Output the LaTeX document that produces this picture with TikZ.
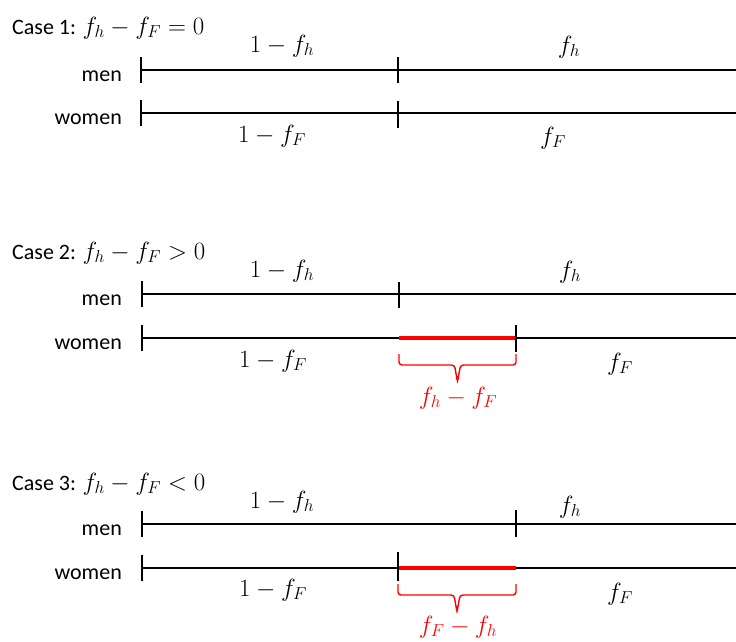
\documentclass[tikz,border=0pt]{standalone}
\usepackage{fontspec}
\setmainfont{Carlito}
\newcommand{\mathsz}[1]{{\fontsize{25}{28}\selectfont$#1$}}
\tikzset{
  bar/.style={line width=2.6pt},
  tickmark/.style={line width=2.6pt},
  redbar/.style={line width=4pt, red},
  bracestyle/.style={red, line width=1.4pt, rounded corners=3pt},
  lbl/.style={inner sep=0pt, font=\fontsize{22}{26}\selectfont},
  rowlbl/.style={lbl, anchor=east},
  caselbl/.style={lbl, anchor=west},
}
\begin{document}
\begin{tikzpicture}[x=1pt,y=-1pt]
\useasboundingbox (0,0) rectangle (736,641);
% ---------- Case 1
\node[caselbl] (c1) at (12,28) {Case 1: \mathsz{f_h - f_F = 0}};
\node[rowlbl] (m1) at (122,76) {men};
\node[rowlbl] (w1) at (122,119) {women};
\coordinate (m1a) at (141,70); \coordinate (m1b) at (736,70);
\coordinate (w1a) at (141,113); \coordinate (w1b) at (736,113);
\coordinate (m1t) at (398,70); \coordinate (w1t) at (398,113);
\draw[bar] (m1a) -- (m1b);
\draw[bar] (w1a) -- (w1b);
\draw[tickmark] ([yshift=-13pt]m1a) -- ([yshift=13pt]m1a);
\draw[tickmark] ([yshift=-13pt]w1a) -- ([yshift=13pt]w1a);
\draw[tickmark] ([yshift=-13pt]m1t) -- ([yshift=13pt]m1t);
\draw[tickmark] ([yshift=-15pt]w1t) -- ([yshift=12pt]w1t);
\node[lbl] (a1) at (282,46) {\mathsz{1 - f_h}};
\node[lbl] (b1) at (569,47) {\mathsz{f_h}};
\node[lbl] (d1) at (272,136) {\mathsz{1 - f_F}};
\node[lbl] (e1) at (553,138) {\mathsz{f_F}};
% ---------- Case 2
\node[caselbl] (c2) at (12,253) {Case 2: \mathsz{f_h - f_F > 0}};
\node[rowlbl] (m2) at (122,300) {men};
\node[rowlbl] (w2) at (122,344) {women};
\coordinate (m2a) at (142,294); \coordinate (m2b) at (736,294);
\coordinate (w2a) at (142,338); \coordinate (w2b) at (736,338);
\coordinate (m2t) at (399,294); \coordinate (w2s) at (399,338); \coordinate (w2t) at (516,338);
\draw[bar] (m2a) -- (m2b);
\draw[bar] (w2a) -- (w2b);
\draw[redbar] (w2s) -- (w2t);
\draw[tickmark] ([yshift=-13pt]m2a) -- ([yshift=13pt]m2a);
\draw[tickmark] ([yshift=-13pt]w2a) -- ([yshift=13pt]w2a);
\draw[tickmark] ([yshift=-14pt]m2t) -- ([yshift=12pt]m2t);
\draw[tickmark] ([yshift=-14pt]w2t) -- ([yshift=13pt]w2t);
\coordinate (k2l) at (399,354); \coordinate (k2r) at (516,354);
\coordinate (k2m) at (457.5,376);
\draw[bracestyle] (k2l) |- ([xshift=-3pt]k2m |- 0,365) -- ([yshift=-6pt]k2m) -- (k2m);
\draw[bracestyle] (k2r) |- ([xshift=3pt]k2m |- 0,365) -- ([yshift=-6pt]k2m) -- (k2m);
\node[lbl] (a2) at (282,271) {\mathsz{1 - f_h}};
\node[lbl] (b2) at (570,272) {\mathsz{f_h}};
\node[lbl] (d2) at (273,361) {\mathsz{1 - f_F}};
\node[lbl] (e2) at (620,364) {\mathsz{f_F}};
\node[lbl, text=red] (g2) at (458,398) {\mathsz{f_h - f_F}};
% ---------- Case 3
\node[caselbl] (c3) at (12,484) {Case 3: \mathsz{f_h - f_F < 0}};
\node[rowlbl] (m3) at (122,530) {men};
\node[rowlbl] (w3) at (122,574) {women};
\coordinate (m3a) at (142,524); \coordinate (m3b) at (736,524);
\coordinate (w3a) at (142,568); \coordinate (w3b) at (736,568);
\coordinate (m3t) at (516,524); \coordinate (w3t) at (398,568); \coordinate (w3s) at (516,568);
\draw[bar] (m3a) -- (m3b);
\draw[bar] (w3a) -- (w3b);
\draw[redbar] (w3t) -- (w3s);
\draw[tickmark] ([yshift=-13pt]m3a) -- ([yshift=13pt]m3a);
\draw[tickmark] ([yshift=-13pt]w3a) -- ([yshift=13pt]w3a);
\draw[tickmark] ([yshift=-13pt]m3t) -- ([yshift=14pt]m3t);
\draw[tickmark] ([yshift=-13pt]w3t) -- ([yshift=16pt]w3t);
\coordinate (k3l) at (398,584); \coordinate (k3r) at (516,584);
\coordinate (k3m) at (457,606);
\draw[bracestyle] (k3l) |- ([xshift=-3pt]k3m |- 0,595) -- ([yshift=-6pt]k3m) -- (k3m);
\draw[bracestyle] (k3r) |- ([xshift=3pt]k3m |- 0,595) -- ([yshift=-6pt]k3m) -- (k3m);
\node[lbl] (a3) at (282,502) {\mathsz{1 - f_h}};
\node[lbl] (b3) at (570,507) {\mathsz{f_h}};
\node[lbl] (d3) at (273,590) {\mathsz{1 - f_F}};
\node[lbl] (e3) at (620,594) {\mathsz{f_F}};
\node[lbl, text=red] (g3) at (458,627) {\mathsz{f_F - f_h}};
\end{tikzpicture}
\end{document}
